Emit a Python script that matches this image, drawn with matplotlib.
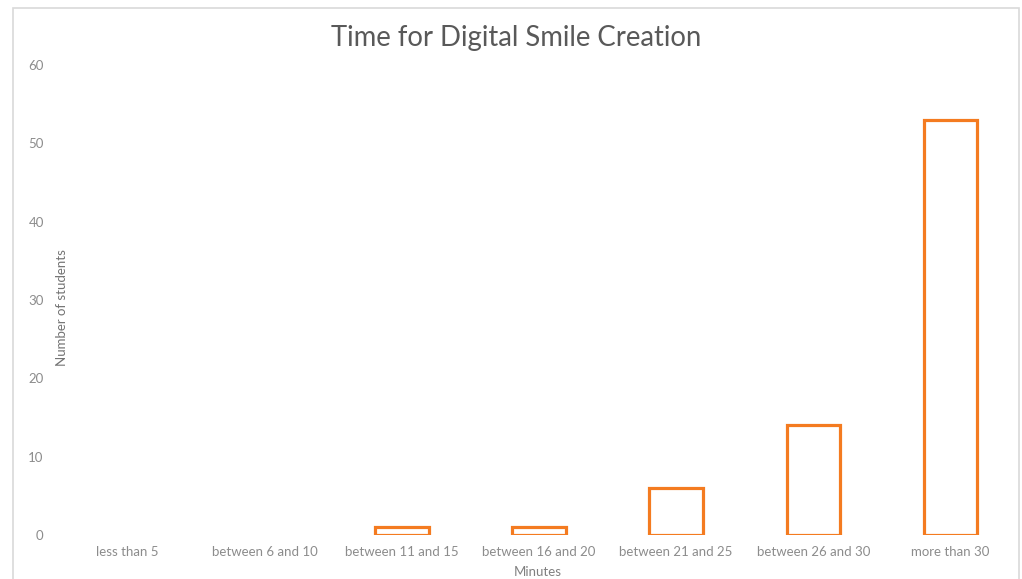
import matplotlib.pyplot as plt
from matplotlib.patches import Rectangle

categories = ["less than 5", "between 6 and 10", "between 11 and 15",
              "between 16 and 20", "between 21 and 25", "between 26 and 30",
              "more than 30"]
students = [0, 0, 1, 1, 6, 14, 53]

plt.rcParams['font.family'] = ['Lato', 'DejaVu Sans']

W, H = 1022, 579
fig = plt.figure(figsize=(W / 100, H / 100), dpi=100)

# light frame around the chart
fig.patches.append(Rectangle((13 / W, -0.02), (1019 - 13) / W, (579 - 8) / H + 0.02,
                             transform=fig.transFigure, fill=False,
                             edgecolor='#d9d9d9', linewidth=1.2))

ax = fig.add_axes([59 / W, 1 - 535 / H, (1019 - 59) / W, (535 - 65) / H])
x = range(len(categories))
bars = ax.bar(x, students, width=0.39, facecolor='white', edgecolor='#f47b20', linewidth=2.3)
for b, v in zip(bars, students):
    if v == 0:
        b.set_linewidth(0)

ax.set_xlim(-0.5, len(categories) - 0.5)
ax.set_ylim(0, 60)
ax.set_yticks(range(0, 61, 10))
ax.set_xticks(list(x))
ax.set_xticklabels(categories)
for s in ax.spines.values():
    s.set_visible(False)
ax.tick_params(axis='both', length=0, labelsize=9.5, labelcolor='#8c8c8c')
ax.tick_params(axis='y', pad=11)
ax.tick_params(axis='x', pad=8)

fig.text(538 / W, 1 - 572 / H, "Minutes", ha='center', va='center',
         fontsize=9.5, color='#808080')
fig.text(62 / W, 1 - 308 / H, "Number of students", ha='center', va='center',
         rotation=90, fontsize=9.5, color='#737373')
fig.text(516 / W, 1 - 38 / H, "Time for Digital Smile Creation", ha='center',
         va='center', fontsize=19.8, color='#595959')

fig.savefig("out.png", dpi=100)
